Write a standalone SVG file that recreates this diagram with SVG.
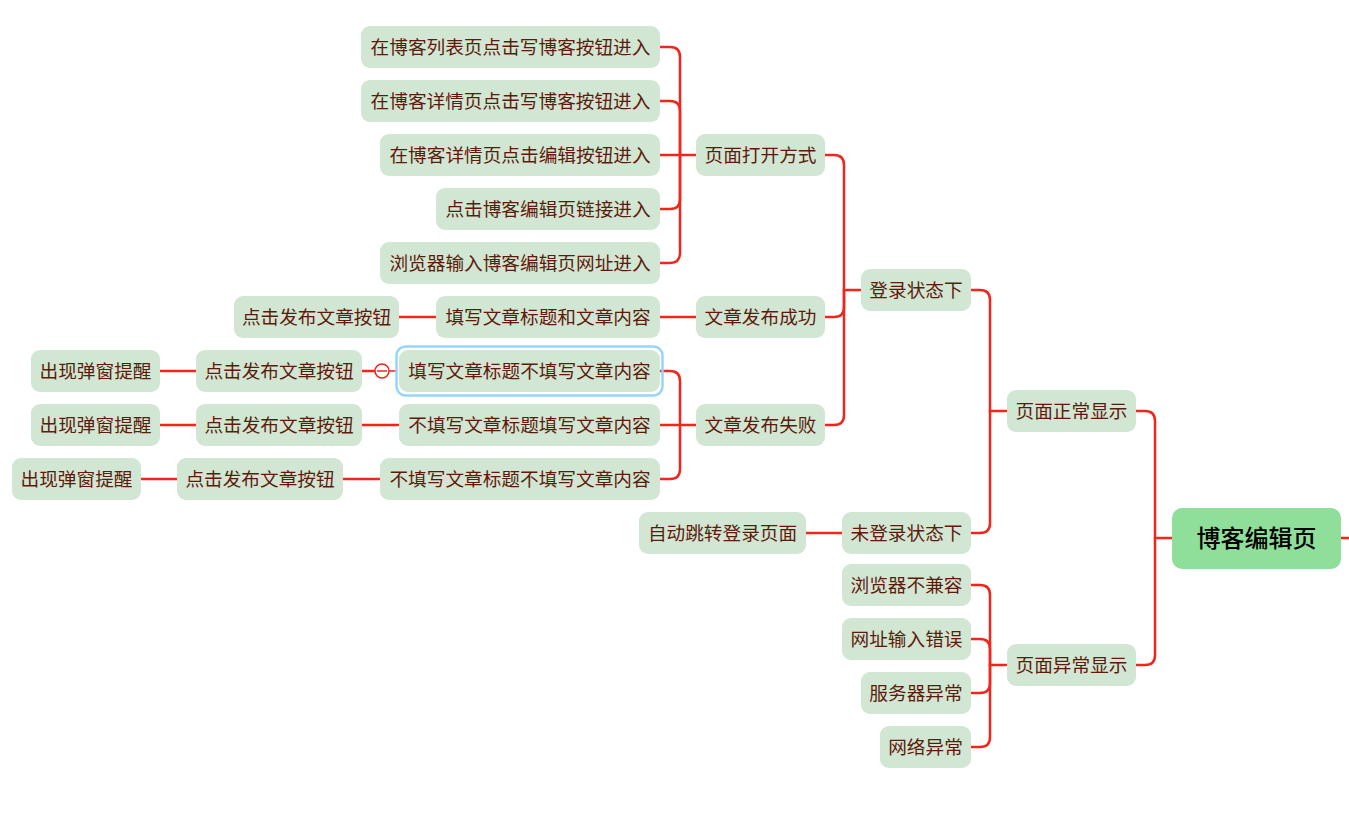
<svg xmlns="http://www.w3.org/2000/svg" width="1349" height="816" viewBox="0 0 1349 816">
<style>
.n rect{fill:#d1e6d3;}
.n text{font-family:"Noto Sans CJK SC","Liberation Sans",sans-serif;font-size:18.67px;fill:#5e1b0c;text-anchor:middle;}
.c path{fill:none;stroke:#f0261c;stroke-width:2.5;stroke-linecap:round;}
</style>
<rect width="1349" height="816" fill="#ffffff"/>
<g class="c" id="connectors">
<path d="M1341,538 H1349"/>
<path d="M1136,411 H1145 Q1155,411 1155,421 V538 H1172"/>
<path d="M1136,665 H1145 Q1155,665 1155,655 V538"/>
<path d="M971,290 H980 Q990,290 990,300 V411 H1007"/>
<path d="M971,533 H980 Q990,533 990,523 V411"/>
<path d="M971,585 H980 Q990,585 990,595 V665 H1007"/>
<path d="M971,639 H980 Q990,639 990,649 V665"/>
<path d="M971,693 H980 Q990,693 990,683 V665"/>
<path d="M971,747 H980 Q990,747 990,737 V665"/>
<path d="M825,155 H834 Q844,155 844,165 V290 H861"/>
<path d="M825,317 H834 Q844,317 844,307 V290"/>
<path d="M825,425 H834 Q844,425 844,415 V290"/>
<path d="M660,47 H670 Q680,47 680,57 V155 H696"/>
<path d="M660,101 H670 Q680,101 680,111 V155"/>
<path d="M660,155 H680"/>
<path d="M660,209 H670 Q680,209 680,199 V155"/>
<path d="M660,263 H670 Q680,263 680,253 V155"/>
<path d="M660,317 H696"/>
<path d="M399,317 H436"/>
<path d="M660,371 H670 Q680,371 680,381 V425 H696"/>
<path d="M660,425 H680"/>
<path d="M660,479 H670 Q680,479 680,469 V425"/>
<path d="M362,371 H375"/>
<path d="M389,371 H397" style="stroke-width:1.5"/>
<path d="M160,371 H196"/>
<path d="M362,425 H399"/>
<path d="M160,425 H196"/>
<path d="M343,479 H380"/>
<path d="M141,479 H177"/>
<path d="M806,533 H842"/>
</g>
<g id="collapse">
<circle cx="382" cy="371" r="7" fill="#ffffff" stroke="#f0261c" stroke-width="1.5"/>
<path d="M377,371 H387" stroke="#f0261c" stroke-width="1.5"/>
</g>
<g id="root"><rect x="1172" y="508" width="169" height="61" rx="10" fill="#8fdf9a"/><text x="1256.5" y="547" font-family="Noto Sans CJK SC, Liberation Sans, sans-serif" font-size="24" font-weight="500" fill="#000000" text-anchor="middle">博客编辑页</text></g>
<g class="n" id="n1"><rect x="1007" y="390" width="129" height="42" rx="9"/><text x="1071.5" y="418">页面正常显示</text></g>
<g class="n" id="n2"><rect x="1007" y="644" width="129" height="42" rx="9"/><text x="1071.5" y="672">页面异常显示</text></g>
<g class="n" id="n3"><rect x="861" y="269" width="110" height="42" rx="9"/><text x="916" y="297">登录状态下</text></g>
<g class="n" id="n4"><rect x="842" y="512" width="129" height="42" rx="9"/><text x="906.5" y="540">未登录状态下</text></g>
<g class="n" id="n5"><rect x="696" y="134" width="129" height="42" rx="9"/><text x="760.5" y="162">页面打开方式</text></g>
<g class="n" id="n6"><rect x="696" y="296" width="129" height="42" rx="9"/><text x="760.5" y="324">文章发布成功</text></g>
<g class="n" id="n7"><rect x="696" y="404" width="129" height="42" rx="9"/><text x="760.5" y="432">文章发布失败</text></g>
<g class="n" id="n8"><rect x="361" y="26" width="299" height="42" rx="9"/><text x="510.5" y="54">在博客列表页点击写博客按钮进入</text></g>
<g class="n" id="n9"><rect x="361" y="80" width="299" height="42" rx="9"/><text x="510.5" y="108">在博客详情页点击写博客按钮进入</text></g>
<g class="n" id="n10"><rect x="380" y="134" width="280" height="42" rx="9"/><text x="520" y="162">在博客详情页点击编辑按钮进入</text></g>
<g class="n" id="n11"><rect x="436" y="188" width="224" height="42" rx="9"/><text x="548" y="216">点击博客编辑页链接进入</text></g>
<g class="n" id="n12"><rect x="380" y="242" width="280" height="42" rx="9"/><text x="520" y="270">浏览器输入博客编辑页网址进入</text></g>
<g class="n" id="n13"><rect x="436" y="296" width="224" height="42" rx="9"/><text x="548" y="324">填写文章标题和文章内容</text></g>
<g class="n" id="n14"><rect x="234" y="296" width="165" height="42" rx="9"/><text x="316.5" y="324">点击发布文章按钮</text></g>
<g class="n" id="n15"><rect x="396.5" y="346.5" width="266" height="49" rx="9" stroke="#95d5fa" stroke-width="2.5" style="fill:none"/><rect x="399" y="350" width="261" height="42" rx="9"/><text x="529.5" y="378">填写文章标题不填写文章内容</text></g>
<g class="n" id="n16"><rect x="399" y="404" width="261" height="42" rx="9"/><text x="529.5" y="432">不填写文章标题填写文章内容</text></g>
<g class="n" id="n17"><rect x="380" y="458" width="280" height="42" rx="9"/><text x="520" y="486">不填写文章标题不填写文章内容</text></g>
<g class="n" id="n18"><rect x="196" y="350" width="166" height="42" rx="9"/><text x="279" y="378">点击发布文章按钮</text></g>
<g class="n" id="n19"><rect x="31" y="350" width="129" height="42" rx="9"/><text x="95.5" y="378">出现弹窗提醒</text></g>
<g class="n" id="n20"><rect x="196" y="404" width="166" height="42" rx="9"/><text x="279" y="432">点击发布文章按钮</text></g>
<g class="n" id="n21"><rect x="31" y="404" width="129" height="42" rx="9"/><text x="95.5" y="432">出现弹窗提醒</text></g>
<g class="n" id="n22"><rect x="177" y="458" width="166" height="42" rx="9"/><text x="260" y="486">点击发布文章按钮</text></g>
<g class="n" id="n23"><rect x="12" y="458" width="129" height="42" rx="9"/><text x="76.5" y="486">出现弹窗提醒</text></g>
<g class="n" id="n24"><rect x="639" y="512" width="167" height="42" rx="9"/><text x="722.5" y="540">自动跳转登录页面</text></g>
<g class="n" id="n25"><rect x="842" y="564" width="129" height="42" rx="9"/><text x="906.5" y="592">浏览器不兼容</text></g>
<g class="n" id="n26"><rect x="842" y="618" width="129" height="42" rx="9"/><text x="906.5" y="646">网址输入错误</text></g>
<g class="n" id="n27"><rect x="861" y="672" width="110" height="42" rx="9"/><text x="916" y="700">服务器异常</text></g>
<g class="n" id="n28"><rect x="880" y="726" width="91" height="42" rx="9"/><text x="925.5" y="754">网络异常</text></g>
</svg>
